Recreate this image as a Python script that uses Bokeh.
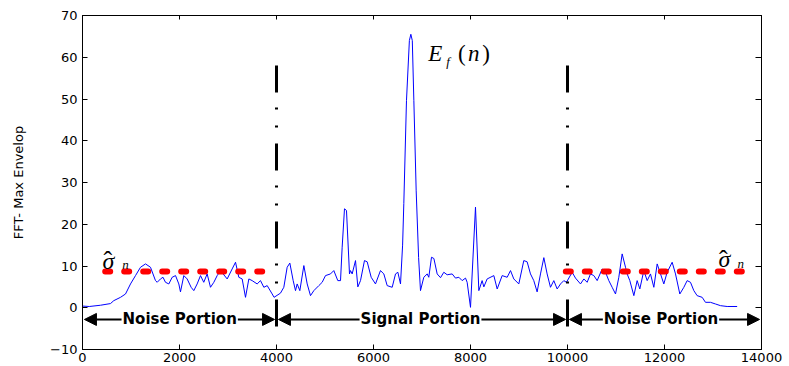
from bokeh.plotting import figure
from bokeh.models import Range1d, LinearAxis, Label, Arrow, NormalHead, FixedTicker
from bokeh.embed import file_html
from bokeh.resources import INLINE

# ---- data ----
x_env = [0, 140, 371, 577, 645, 784, 887, 990, 1093, 1196, 1299, 1402,
         1505, 1540, 1608, 1660, 1711, 1780, 1849, 1918, 1986, 2020, 2089, 2158, 2240, 2295,
         2364, 2433, 2500, 2570, 2639, 2708, 2777, 2845, 2900, 2983, 3086, 3155, 3223, 3292,
         3361, 3430, 3498, 3601, 3670, 3739, 3808, 3911, 3950, 4082, 4151, 4220, 4275, 4344,
         4392, 4426, 4481, 4564, 4633, 4701, 4770, 4873, 4942, 5010, 5113, 5182, 5264, 5320,
         5354, 5402, 5443, 5505, 5526, 5560, 5629, 5677, 5732, 5814, 5870, 5952, 6041, 6144,
         6213, 6282, 6385, 6454, 6502, 6557, 6600, 6625, 6680, 6740, 6770, 6800, 6832, 6880,
         6930, 6969, 7037, 7107, 7140, 7196, 7245, 7313, 7382, 7450, 7519, 7622, 7691, 7760,
         7828, 7897, 7931, 8000, 8103, 8172, 8240, 8275, 8343, 8481, 8550, 8653, 8756, 8825,
         8893, 8996, 9099, 9168, 9237, 9305, 9374, 9443, 9512, 9580, 9649, 9718, 9787, 9856,
         9924, 9979, 10096, 10165, 10268, 10337, 10405, 10474, 10543, 10612, 10715, 10784,
         10852, 10921, 10990, 11058, 11127, 11196, 11230, 11285, 11368, 11436, 11491, 11574,
         11643, 11711, 11780, 11849, 11918, 11986, 12055, 12158, 12227, 12316, 12399, 12467,
         12536, 12605, 12673, 12777, 12845, 12948, 13052, 13155, 13292, 13498]
y_env = [0.4, 0.3, 0.6, 1.0, 1.7, 2.5, 3.3, 5.7, 7.7, 9.7, 10.5, 9.7,
         6.5, 6.1, 6.9, 7.3, 6.1, 5.7, 7.3, 7.7, 5.7, 3.8, 7.7, 6.9, 4.9, 4.1,
         5.7, 7.7, 6.1, 8.1, 4.9, 6.1, 7.7, 8.9, 8.1, 6.9, 9.3, 10.9, 7.3, 6.9,
         2.5, 6.9, 6.5, 5.7, 6.5, 4.9, 5.3, 3.3, 2.5, 3.5, 4.9, 9.7, 10.7, 6.5,
         4.1, 5.7, 4.1, 10.1, 5.7, 2.9, 4.1, 5.3, 6.1, 7.7, 8.1, 8.9, 6.5, 6.5,
         14.5, 23.7, 23.3, 8.1, 8.9, 8.1, 11.3, 5.0, 6.5, 11.3, 11.0, 7.3, 5.7, 8.9,
         8.1, 5.3, 4.9, 8.1, 8.5, 5.7, 15.0, 25.0, 49.6, 64.0, 65.5, 64.0, 49.6, 28.0,
         12.0, 4.1, 7.3, 8.1, 7.3, 12.1, 11.8, 8.1, 7.2, 8.5, 7.9, 8.1, 7.1, 7.3,
         6.5, 7.1, 6.1, 0.1, 24.1, 4.1, 6.5, 5.0, 6.9, 7.7, 4.5, 7.7, 7.3, 8.9,
         6.9, 5.7, 11.3, 11.0, 8.1, 6.5, 3.8, 8.1, 12.0, 8.1, 4.9, 6.5, 4.5, 5.7,
         6.5, 6.1, 8.5, 7.1, 5.7, 6.9, 6.1, 8.1, 7.7, 6.5, 9.3, 8.5,
         6.5, 4.9, 3.3, 7.3, 12.9, 9.7, 8.1, 6.5, 2.9, 6.5, 4.5, 8.9,
         6.5, 8.1, 4.9, 10.5, 8.1, 5.7, 8.5, 10.9, 8.1, 3.3, 4.9, 6.5,
         6.1, 4.1, 2.9, 2.5, 1.3, 1.3, 0.9, 0.5, 0.3, 0.3]

noise_level = 8.7
noise_x0 = [468, 9965]
noise_x1 = [3705, 13594]

boundaries = [4000, 10000]
boundary_top = 58.0
boundary_bottom = -4.6

portion_starts = [0, 4000, 10000]
portion_ends = [4000, 10000, 14000]
portion_labels = ["Noise Portion", "Signal Portion", "Noise Portion"]
portion_label_x = [2004, 6969, 11928]
arrow_y = -2.8

x_ticks = [0, 2000, 4000, 6000, 8000, 10000, 12000, 14000]
y_ticks = [-10, 0, 10, 20, 30, 40, 50, 60, 70]

# ---- figure ----
p = figure(width=789, height=366, x_range=Range1d(0, 14000), y_range=Range1d(-10, 70),
           output_backend="svg", toolbar_location=None,
           min_border_left=82, min_border_right=28, min_border_top=15, min_border_bottom=17)
p.xgrid.visible = False
p.ygrid.visible = False
p.outline_line_color = "black"
p.outline_line_alpha = 1.0
p.outline_line_width = 1
p.background_fill_color = "white"
p.border_fill_color = "white"

tick_font = "DejaVu Sans"
for ax in (p.xaxis[0], p.yaxis[0]):
    ax.major_tick_in = 5
    ax.major_tick_out = 0
    ax.minor_tick_line_color = None
    ax.axis_line_color = "black"
    ax.major_tick_line_color = "black"
    ax.major_label_text_font = tick_font
    ax.major_label_text_font_size = "13px"
    ax.major_label_text_color = "black"
p.xaxis.ticker = FixedTicker(ticks=x_ticks)
p.yaxis.ticker = FixedTicker(ticks=y_ticks)
p.xaxis.major_label_standoff = 3
p.yaxis.major_label_standoff = 5
p.yaxis.axis_label = "FFT- Max Envelop"
p.yaxis.axis_label_text_font = tick_font
p.yaxis.axis_label_text_font_size = "13px"
p.yaxis.axis_label_text_font_style = "normal"
p.yaxis.axis_label_text_color = "black"
p.yaxis.axis_label_standoff = 21

top_ax = LinearAxis(ticker=FixedTicker(ticks=x_ticks), major_label_text_font_size="1px",
                    major_label_text_color=None, major_label_standoff=0,
                    major_tick_in=4, major_tick_out=0,
                    minor_tick_line_color=None, axis_line_color="black")
right_ax = LinearAxis(ticker=FixedTicker(ticks=y_ticks), major_label_text_font_size="1px",
                      major_label_text_color=None, major_label_standoff=0,
                      major_tick_in=6, major_tick_out=0,
                      minor_tick_line_color=None, axis_line_color="black")
p.add_layout(top_ax, "above")
p.add_layout(right_ax, "right")

# envelope
p.line(x_env, y_env, line_color="#0000FF", line_width=1)

# noise level (red dashed)
p.segment(x0=noise_x0, y0=[noise_level] * 2, x1=noise_x1, y1=[noise_level] * 2,
          line_color="#FF0000", line_width=6, line_dash="5 14", line_cap="round")

# boundaries (dash-dot)
p.segment(x0=boundaries, y0=[boundary_top] * 2, x1=boundaries, y1=[boundary_bottom] * 2,
          line_color="black", line_width=3, line_dash="27 15 2 16 2 16")

# arrows
inset = 40
for s, e in zip(portion_starts, portion_ends):
    p.add_layout(Arrow(start=NormalHead(size=12, fill_color="black", line_color="black"),
                       end=NormalHead(size=12, fill_color="black", line_color="black"),
                       x_start=s + inset, y_start=arrow_y, x_end=e - inset, y_end=arrow_y,
                       line_color="black", line_width=2))
for lx, txt in zip(portion_label_x, portion_labels):
    p.add_layout(Label(x=lx, y=arrow_y, text=txt, text_align="center", text_baseline="middle",
                       text_font="DejaVu Sans", text_font_style="bold", text_font_size="15px",
                       text_color="black", background_fill_color="white",
                       background_fill_alpha=1.0, padding=1))

# E_f(n)
serif = "Liberation Serif"
p.add_layout(Label(x=7128, y=60.8, text="E", text_font=serif, text_font_style="italic",
                   text_font_size="23px", text_baseline="alphabetic", text_color="black"))
p.add_layout(Label(x=7500, y=59.0, text="f", text_font=serif, text_font_style="italic",
                   text_font_size="13px", text_baseline="alphabetic", text_color="black"))
p.add_layout(Label(x=7740, y=60.8, text="(", text_font=serif,
                   text_font_size="23px", text_baseline="alphabetic", text_color="black"))
p.add_layout(Label(x=7950, y=60.8, text="n", text_font=serif, text_font_style="italic",
                   text_font_size="23px", text_baseline="alphabetic", text_color="black"))
p.add_layout(Label(x=8240, y=60.8, text=")", text_font=serif,
                   text_font_size="23px", text_baseline="alphabetic", text_color="black"))

# sigma hat n (left and right)
for sx, hx, nx, sy, ny in [(536, 520, 818, 11.3, 10.4), (13237, 13215, 13505, 11.6, 10.6)]:
    p.add_layout(Label(x=sx, y=sy, text="σ", text_font=serif, text_font_style="italic",
                       text_font_size="24px", text_align="center", text_baseline="alphabetic",
                       text_color="black"))
    p.add_layout(Label(x=hx, y=sy, text="ˆ", text_font=serif,
                       text_font_size="26px", text_align="center", text_baseline="alphabetic",
                       text_color="black"))
    p.add_layout(Label(x=nx, y=ny, text="n", text_font=serif, text_font_style="italic",
                       text_font_size="13px", text_baseline="alphabetic", text_color="black"))

open("out.html", "w").write(file_html(p, INLINE))
